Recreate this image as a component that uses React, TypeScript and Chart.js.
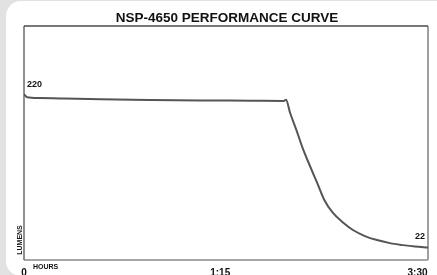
import React, { useEffect, useRef } from "react";
import { Chart, registerables } from "chart.js";

Chart.register(...registerables);

// Minutes elapsed
const minutes = [0, 1.6, 8, 19, 40, 66, 92, 118, 135, 136.2, 138.3, 141.7, 145.2, 148.7, 152.4, 156.1, 160.6, 165.8, 171, 177.2, 183.5, 190.2, 197, 203.2, 210];
// Lumens
const lumens = [220, 216, 215, 214.4, 213.4, 212.6, 212, 211.6, 211.3, 212.8, 196, 173, 148, 127, 105.5, 83.5, 66.7, 54.4, 44.7, 36.9, 31.7, 27.8, 25.2, 23.3, 22];

const xTickValues = [0, 102, 210];
const xTickLabels = ["0", "1:15", "3:30"];
const titleText = "NSP-4650 PERFORMANCE CURVE";
const xAxisName = "HOURS";
const yAxisName = "LUMENS";
const startLabel = "220";
const endLabel = "22";

const FONT = "'Liberation Sans', Arial, Helvetica, sans-serif";

const decorPlugin = {
  id: "decor",
  beforeDatasetsDraw(chart: any) {
    const { ctx, chartArea: a } = chart;
    ctx.save();
    // bottom
    ctx.lineWidth = 1.5;
    ctx.strokeStyle = "#8a8a8a";
    ctx.beginPath();
    ctx.moveTo(a.left, a.bottom);
    ctx.lineTo(a.right, a.bottom);
    ctx.stroke();
    // left
    ctx.strokeStyle = "#6a6a6a";
    ctx.beginPath();
    ctx.moveTo(a.left, a.top);
    ctx.lineTo(a.left, a.bottom);
    ctx.stroke();
    // right
    ctx.lineWidth = 2;
    ctx.strokeStyle = "#a0a0a0";
    ctx.beginPath();
    ctx.moveTo(a.right, a.top);
    ctx.lineTo(a.right, a.bottom);
    ctx.stroke();
    // top
    ctx.lineWidth = 1.5;
    ctx.strokeStyle = "#4a4a4a";
    ctx.beginPath();
    ctx.moveTo(a.left, a.top);
    ctx.lineTo(a.right, a.top);
    ctx.stroke();
    ctx.restore();
  },
  afterDraw(chart: any) {
    const { ctx, chartArea: a, scales } = chart;
    const xs = scales.x;
    const ys = scales.y;
    ctx.save();
    ctx.fillStyle = "#111";
    // title
    ctx.font = `bold 13.5px ${FONT}`;
    ctx.textAlign = "center";
    ctx.textBaseline = "alphabetic";
    ctx.fillText(titleText, (a.left + a.right) / 2 + 1, 21.5);
    // x tick labels
    ctx.font = `bold 10px ${FONT}`;
    xTickValues.forEach((v, i) => {
      const px = xs.getPixelForValue(v);
      ctx.textAlign = i === xTickValues.length - 1 ? "right" : "center";
      ctx.fillText(xTickLabels[i], i === xTickValues.length - 1 ? px - 0.5 : px, 275.5);
    });
    // axis names
    ctx.font = `bold 7px ${FONT}`;
    ctx.textAlign = "left";
    ctx.fillText(xAxisName, a.left + 9, 269);
    ctx.save();
    ctx.translate(21.5, a.bottom - 20);
    ctx.rotate(-Math.PI / 2);
    ctx.textAlign = "center";
    ctx.fillText(yAxisName, 0, 0);
    ctx.restore();
    // value labels
    ctx.font = `bold 9px ${FONT}`;
    ctx.textAlign = "left";
    ctx.fillText(startLabel, a.left + 3, ys.getPixelForValue(lumens[0]) - 7.5);
    ctx.textAlign = "right";
    ctx.fillText(endLabel, a.right - 3, ys.getPixelForValue(lumens[lumens.length - 1]) - 8.5);
    ctx.restore();
  },
};

export default function App() {
  const ref = useRef<HTMLCanvasElement | null>(null);
  useEffect(() => {
    if (!ref.current) return;
    const chart = new Chart(ref.current, {
      type: "line",
      data: {
        datasets: [
          {
            data: minutes.map((m, i) => ({ x: m, y: lumens[i] })),
            borderColor: "#555555",
            borderWidth: 2,
            pointRadius: 0,
            cubicInterpolationMode: "monotone",
            fill: false,
          },
        ],
      },
      options: {
        responsive: false,
        animation: false,
        layout: { padding: { left: 24, right: 9, top: 26, bottom: 15 } },
        plugins: { legend: { display: false }, title: { display: false }, tooltip: { enabled: false } },
        scales: {
          x: { type: "linear", min: 0, max: 210, display: false },
          y: { type: "linear", min: 6, max: 308, display: false },
        },
      },
      plugins: [decorPlugin],
    });
    return () => chart.destroy();
  }, []);

  return (
    <div style={{ position: "fixed", left: 0, top: 0, width: 437, height: 275, background: "#e2e2e2", overflow: "hidden" }}>
      <div style={{ position: "absolute", left: 6, top: 1, width: 460, height: 275, background: "#fff", borderRadius: 15 }} />
      <canvas ref={ref} width={437} height={275} style={{ position: "absolute", left: 0, top: 0, width: 437, height: 275 }} />
    </div>
  );
}
